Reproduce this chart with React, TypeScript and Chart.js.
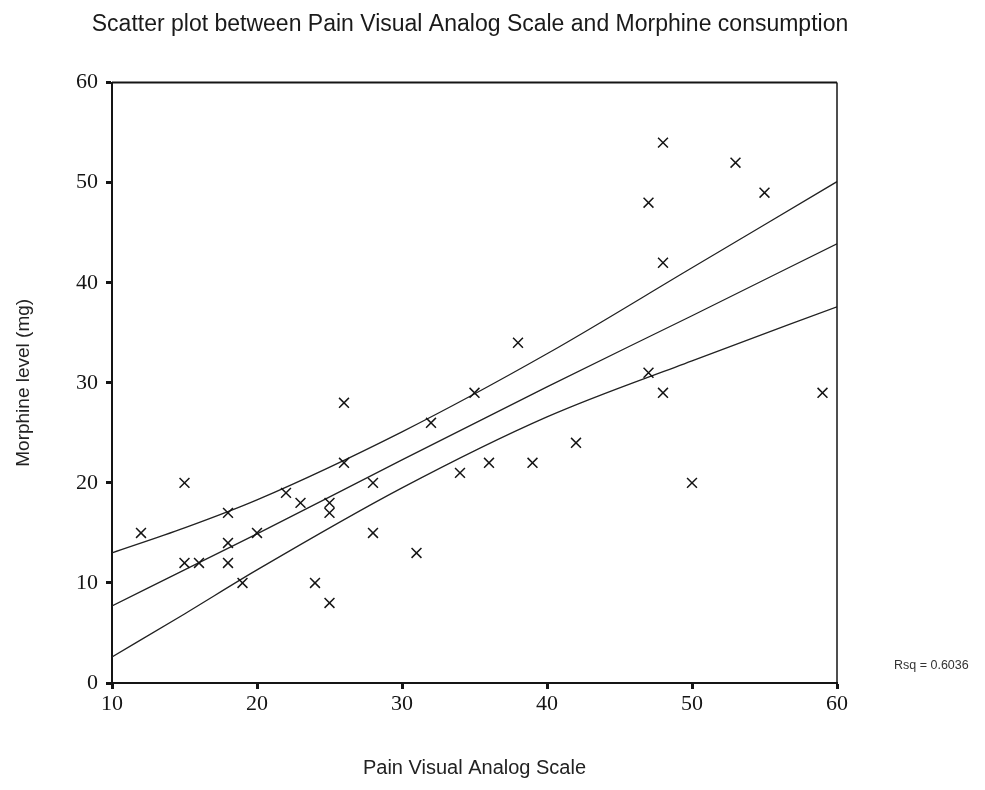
import { useEffect, useRef } from "react";
import { Chart, registerables } from "chart.js";

Chart.register(...registerables);

const chartTitle = "Scatter plot between Pain Visual Analog Scale and Morphine consumption";
const xAxisTitle = "Pain Visual Analog Scale";
const yAxisTitle = "Morphine level (mg)";
const rsqText = "Rsq = 0.6036";

// observed points (Pain VAS, Morphine mg)
const painVAS = [12, 15, 15, 16, 18, 18, 18, 19, 20, 22, 23, 25, 25, 24, 25, 26, 26, 28, 28, 31, 32, 34, 35, 36, 48, 59, 42, 39, 50, 48, 53, 55, 47, 48, 38, 47];
const morphine = [15, 20, 12, 12, 17, 14, 12, 10, 15, 19, 18, 18, 17, 10, 8, 28, 22, 20, 15, 13, 26, 21, 29, 22, 29, 29, 24, 22, 20, 54, 52, 49, 48, 42, 34, 31];

// fit line and confidence band
const fitX = [10, 15, 20, 30, 40, 50, 60];
const fitMid = [7.7, 11.3, 14.9, 22.3, 29.6, 36.7, 43.9];
const fitUpper = [13.0, 15.5, 18.3, 25.1, 32.9, 41.5, 50.1];
const fitLower = [2.6, 6.9, 11.3, 19.5, 26.6, 32.2, 37.6];

const xMin = 10, xMax = 60, xStep = 10;
const yMin = 0, yMax = 60, yStep = 10;

const INK = "#151515";

const framePlugin = {
  id: "frameAndRsq",
  afterDraw(chart: any) {
    const { ctx, chartArea } = chart;
    const { left, right, top, bottom } = chartArea;
    ctx.save();
    ctx.strokeStyle = INK;
    ctx.lineWidth = 2;
    ctx.beginPath();
    ctx.moveTo(left, top);
    ctx.lineTo(right, top);
    ctx.stroke();
    ctx.lineWidth = 1.5;
    ctx.beginPath();
    ctx.moveTo(right, top);
    ctx.lineTo(right, bottom);
    ctx.stroke();
    ctx.fillStyle = "#333";
    ctx.font = "12.5px 'Liberation Sans', Arial, sans-serif";
    ctx.textAlign = "left";
    ctx.textBaseline = "middle";
    ctx.fillText(rsqText, right + 57, bottom - 17);
    ctx.restore();
  },
};

function lineData(ys: number[]) {
  return fitX.map((x, i) => ({ x, y: ys[i] }));
}

export default function App() {
  const ref = useRef<HTMLCanvasElement | null>(null);

  useEffect(() => {
    document.body.style.margin = "0";
    const canvas = ref.current;
    if (!canvas) return;
    const lineStyle = {
      showLine: true,
      pointRadius: 0,
      borderColor: "#222",
      borderWidth: 1.3,
      cubicInterpolationMode: "monotone" as const,
      fill: false,
    };
    const chart = new Chart(canvas, {
      type: "scatter",
      data: {
        datasets: [
          {
            label: "Morphine",
            data: painVAS.map((x, i) => ({ x, y: morphine[i] })),
            pointStyle: "crossRot",
            pointRadius: 7,
            pointBorderWidth: 1.5,
            borderColor: INK,
            backgroundColor: INK,
            showLine: false,
          },
          { label: "Fit", data: lineData(fitMid), ...lineStyle },
          { label: "Upper", data: lineData(fitUpper), ...lineStyle },
          { label: "Lower", data: lineData(fitLower), ...lineStyle },
        ],
      },
      options: {
        responsive: false,
        animation: false,
        layout: { padding: { left: 0, right: 45, top: 0, bottom: 0 } },
        plugins: {
          legend: { display: false },
          tooltip: { enabled: false },
          title: {
            display: true,
            text: chartTitle,
            color: "#1a1a1a",
            font: { family: "'Liberation Sans', Arial, sans-serif", size: 23, weight: "normal" },
            padding: { top: 11, bottom: 44 },
          },
        },
        scales: {
          x: {
            type: "linear",
            min: xMin,
            max: xMax,
            ticks: {
              stepSize: xStep,
              color: INK,
              font: { family: "'Liberation Serif', 'Times New Roman', serif", size: 22 },
              padding: 2,
              maxRotation: 0,
            },
            grid: { drawOnChartArea: false, drawTicks: true, tickLength: 6, tickWidth: 3, tickColor: INK },
            border: { color: INK, width: 2 },
            title: {
              display: true,
              text: xAxisTitle,
              color: "#222",
              font: { family: "'Liberation Sans', Arial, sans-serif", size: 20 },
              padding: { top: 0, bottom: 10 },
            },
            afterFit: (s: any) => {
              s.height = 107;
            },
          },
          y: {
            type: "linear",
            min: yMin,
            max: yMax,
            ticks: {
              stepSize: yStep,
              color: INK,
              font: { family: "'Liberation Serif', 'Times New Roman', serif", size: 22 },
              padding: 8,
            },
            grid: { drawOnChartArea: false, drawTicks: true, tickLength: 6, tickWidth: 3, tickColor: INK },
            border: { color: INK, width: 2 },
            title: {
              display: true,
              text: yAxisTitle,
              color: "#222",
              font: { family: "'Liberation Sans', Arial, sans-serif", size: 19 },
              padding: { top: 12, bottom: 0 },
            },
            afterFit: (s: any) => {
              s.width = 112;
            },
          },
          yRight: {
            type: "linear",
            position: "right",
            min: yMin,
            max: yMax,
            display: true,
            ticks: { display: false },
            grid: { display: false, drawTicks: false },
            border: { display: false },
            afterFit: (s: any) => {
              s.width = 103;
            },
          },
        },
      },
      plugins: [framePlugin],
    });
    return () => chart.destroy();
  }, []);

  return <canvas ref={ref} width={985} height={790} style={{ display: "block", width: 985, height: 790 }} />;
}
